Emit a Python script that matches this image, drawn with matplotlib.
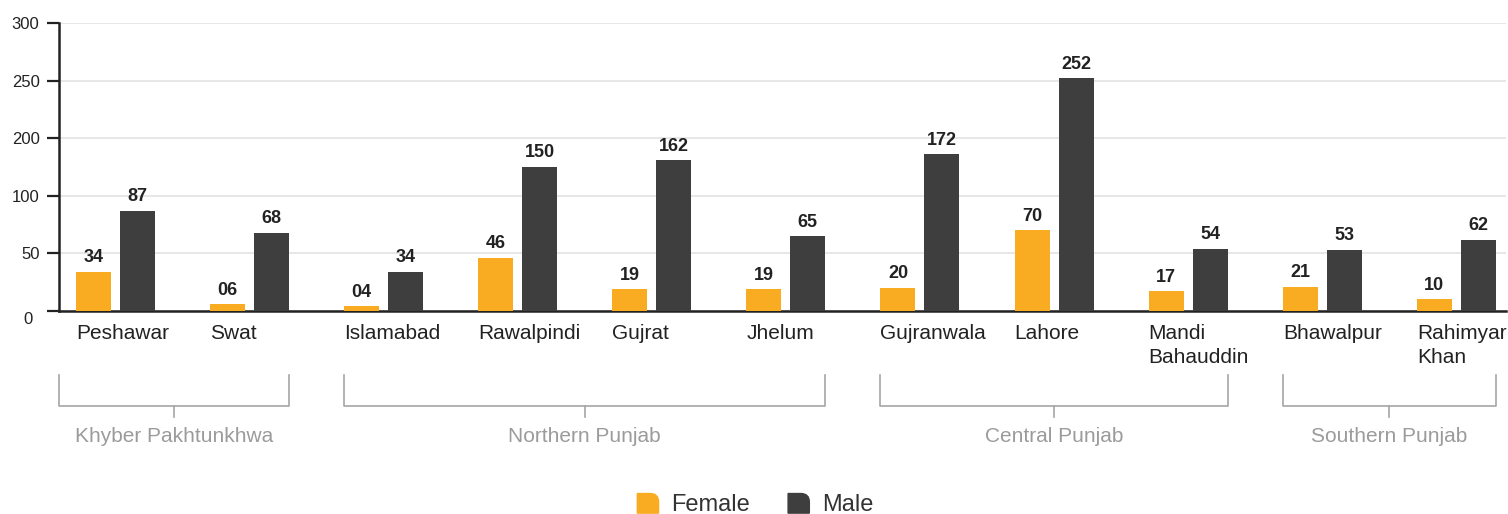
import numpy as np
import matplotlib
matplotlib.use("Agg")
import matplotlib.pyplot as plt
from matplotlib.path import Path
from matplotlib.patches import PathPatch, Patch
from matplotlib.legend_handler import HandlerPatch
import matplotlib.transforms as mtransforms

plt.rcParams['font.family'] = ['Liberation Sans', 'DejaVu Sans']

# Data
cities = ['Peshawar', 'Swat', 'Islamabad', 'Rawalpindi', 'Gujrat', 'Jhelum',
          'Gujranwala', 'Lahore', 'Mandi\nBahauddin', 'Bhawalpur', 'Rahimyar\nKhan']
female = [34, 6, 4, 46, 19, 19, 20, 70, 17, 21, 10]
male = [87, 68, 34, 150, 162, 65, 172, 252, 54, 53, 62]
regions = ['Khyber Pakhtunkhwa', 'Northern Punjab', 'Central Punjab', 'Southern Punjab']
region_span = [(0, 1), (2, 5), (6, 8), (9, 10)]
y_breaks = [0, 50, 100, 200, 250, 300]
y_ticklabels = ['', '50', '100', '200', '250', '300']

FEMALE_C = '#F9AC21'
MALE_C = '#3E3E3E'
TEXT_C = '#222222'
GROUP_C = '#9B9B9B'

# uneven y axis: each labelled step gets the same height
steps = np.arange(len(y_breaks), dtype=float)


def forward(v):
    v = np.asarray(v, dtype=float)
    out = np.interp(v, y_breaks, steps)
    out = np.where(v < 0, v / 50.0, out)
    out = np.where(v > 300, 5 + (v - 300) / 50.0, out)
    return out


def inverse(s):
    s = np.asarray(s, dtype=float)
    out = np.interp(s, steps, y_breaks)
    out = np.where(s < 0, s * 50.0, out)
    out = np.where(s > 5, 300 + (s - 5) * 50.0, out)
    return out


def rounded_square(legend, orig_handle, xdescent, ydescent, width, height, fontsize):
    x0, y0 = -xdescent, -ydescent
    x1, y1 = x0 + width, y0 + height
    r = 0.4 * width
    verts = [(x0, y0), (x1, y0), (x1, y1 - r), (x1, y1), (x1 - r, y1), (x0, y1), (x0, y0)]
    codes = [Path.MOVETO, Path.LINETO, Path.LINETO, Path.CURVE3, Path.CURVE3,
             Path.LINETO, Path.CLOSEPOLY]
    return PathPatch(Path(verts, codes))


W, H = 1508, 514
fig = plt.figure(figsize=(W / 100, H / 100), dpi=100)
ax_left, ax_right, ax_top, ax_bot = 59, 1506, 23, 311
ax = fig.add_axes([ax_left / W, 1 - ax_bot / H, (ax_right - ax_left) / W, (ax_bot - ax_top) / H])

x = np.arange(len(cities))
bw = 0.261
off = 0.164
ax.bar(x - off, female, bw, color=FEMALE_C, zorder=3)
ax.bar(x + off, male, bw, color=MALE_C, zorder=3)

ax.set_yscale('function', functions=(forward, inverse))
ax.set_ylim(0, 300)
ax.set_xlim(-0.42, 10.37)

for xs, vals in ((x - off, female), (x + off, male)):
    for xi, v in zip(xs, vals):
        ax.annotate(f'{v:02d}', (xi, v), xytext=(0, 4), textcoords='offset points',
                    ha='center', va='bottom', fontsize=13, fontweight='bold',
                    color=TEXT_C, zorder=4)

ax.set_yticks(y_breaks)
ax.set_yticklabels(y_ticklabels)
ax.tick_params(axis='y', length=9, width=1.6, color='#222222', pad=5,
               labelsize=12, labelcolor=TEXT_C)
ax.annotate('0', xy=(0, 0), xycoords='axes fraction', xytext=(-19, -6),
            textcoords='offset points', ha='right', va='center', fontsize=12, color=TEXT_C)
ax.yaxis.grid(True, color='#E3E3E3', linewidth=1.2, zorder=0)
ax.set_axisbelow(True)

ax.set_xticks(x - off - bw / 2)
ax.set_xticklabels(cities)
ax.tick_params(axis='x', length=0, pad=9.5, labelsize=15, labelcolor=TEXT_C)
plt.setp(ax.get_xticklabels(), ha='left', multialignment='left', linespacing=1.3)

for s in ('top', 'right'):
    ax.spines[s].set_visible(False)
for s in ('left', 'bottom'):
    ax.spines[s].set_linewidth(1.8)
    ax.spines[s].set_color('#222222')

# region brackets below the city names
trans = mtransforms.blended_transform_factory(ax.transData, ax.transAxes)
h_px = ax_bot - ax_top


def ay(py):
    return (ax_bot - py) / h_px


xmin = ax.get_xlim()[0]
for name, (a, b) in zip(regions, region_span):
    left = xmin if a == 0 else a - off - bw / 2
    right = b + off + bw / 2
    mid = (left + right) / 2
    ax.plot([left, left, right, right], [ay(375), ay(406), ay(406), ay(375)],
            color='#A5A5A5', lw=1.2, transform=trans, clip_on=False)
    ax.plot([mid, mid], [ay(406), ay(417)], color='#A5A5A5', lw=1.2,
            transform=trans, clip_on=False)
    ax.text(mid, ay(436), name, transform=trans, ha='center', va='center',
            fontsize=15, color=GROUP_C)

handles = [Patch(color=FEMALE_C, label='Female'), Patch(color=MALE_C, label='Male')]
fig.legend(handles=handles, loc='center', bbox_to_anchor=(0.501, 1 - 505 / H), ncol=2,
           frameon=False, fontsize=17, handlelength=0.9, handleheight=0.9,
           handletextpad=0.55, columnspacing=1.6, labelcolor='#333333',
           handler_map={Patch: HandlerPatch(patch_func=rounded_square)})

fig.savefig('out.png', dpi=100)
